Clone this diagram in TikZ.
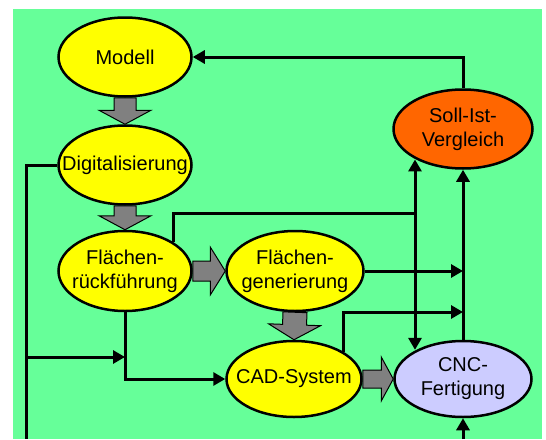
\documentclass[tikz,border=0pt]{standalone}
\usepackage{fontspec}
\setmainfont{Liberation Sans}
\usetikzlibrary{shapes.geometric,arrows.meta,calc}
\definecolor{bggreen}{HTML}{66FF99}
\definecolor{nodeyellow}{HTML}{FFFF00}
\definecolor{nodeorange}{HTML}{FF6600}
\definecolor{nodelilac}{HTML}{CCCCFF}
\definecolor{blockgray}{HTML}{808080}
\newcommand\blockarr[5]{%
  \coordinate (ba1) at (#1);
  \coordinate (ba2) at (#2);
  \coordinate (bah) at ($(ba2)!#5!(ba1)$);
  \filldraw[blockarrow] ($(ba1)!#3!90:(ba2)$) -- ($(bah)!#3!90:(ba2)$) -- ($(bah)!#4!90:(ba2)$) -- (ba2)
    -- ($(bah)!#4!-90:(ba2)$) -- ($(bah)!#3!-90:(ba2)$) -- ($(ba1)!#3!-90:(ba2)$) -- cycle;
}
\begin{document}
\begin{tikzpicture}[x=1pt,y=-1pt,
  blob/.style={ellipse, draw=black, line width=2.5pt, inner sep=0pt},
  txt/.style={align=center, font=\fontsize{20}{24}\selectfont, inner sep=0pt},
  conn/.style={line width=3pt},
  arr/.style={conn, -{Triangle[length=12pt,width=13pt]}},
  blockarrow/.style={fill=blockgray, draw=black, line width=1pt, line join=miter}]
\useasboundingbox (0,0) rectangle (546,439);
\fill[bggreen] (13,9) rectangle (542,439);

\node[blob, fill=nodeyellow, minimum width=133pt, minimum height=79pt, label={[txt]center:Modell}] (m) at (125,57) {};
\node[blob, fill=nodeyellow, minimum width=133pt, minimum height=79pt, label={[txt]center:Digitalisierung}] (d) at (125,165) {};
\node[blob, fill=nodeyellow, minimum width=133pt, minimum height=80pt, label={[txt]center:Flächen-\\rückführung}] (f) at (125,271) {};
\node[blob, fill=nodeyellow, minimum width=137pt, minimum height=80pt, label={[txt]center:Flächen-\\generierung}] (g) at (295,271) {};
\node[blob, fill=nodeyellow, minimum width=135pt, minimum height=76pt, label={[txt]center:CAD-System}] (c) at (294,379) {};
\node[blob, fill=nodelilac, minimum width=137pt, minimum height=76pt, label={[txt]center:CNC-\\Fertigung}] (n) at (463,379) {};
\node[blob, fill=nodeorange, minimum width=139pt, minimum height=79pt, label={[txt]center:Soll-Ist-\\Vergleich}] (s) at (463,129) {};

% block arrows
\blockarr{m.south}{d.north}{11pt}{26pt}{14pt}
\blockarr{d.south}{f.north}{11pt}{26pt}{14pt}
\blockarr{f.east}{g.west}{10pt}{24pt}{15pt}
\blockarr{g.south}{c.north}{12pt}{26pt}{15pt}
\blockarr{c.east}{n.west}{9pt}{22pt}{12pt}

% helper coordinates
\coordinate (lb) at (26,439);
\coordinate (lj) at (26,357);
\coordinate (fj) at (125,357);
\coordinate (tj) at (415,213);
\coordinate (cj) at (463,312);
\coordinate (nb) at (463,439);

% connectors
\draw[arr] (s.north) |- (m.east);
\draw[conn] (d.west) -| (lb);
\draw[arr] (lj) -- (fj);
\draw[arr] (f.south) |- (c.west);
\draw[conn] (f.31) |- (tj);
\draw[arr] (tj) -- (tj |- s.213);
\draw[arr] (tj) -- (tj |- n.148);
\draw[arr] (n.north) -- (s.south);
\draw[arr] (g.east) -- (g.east -| n.north);
\draw[arr] (c.29) |- (cj);
\draw[arr] (nb) -- (n.south);
\end{tikzpicture}
\end{document}
